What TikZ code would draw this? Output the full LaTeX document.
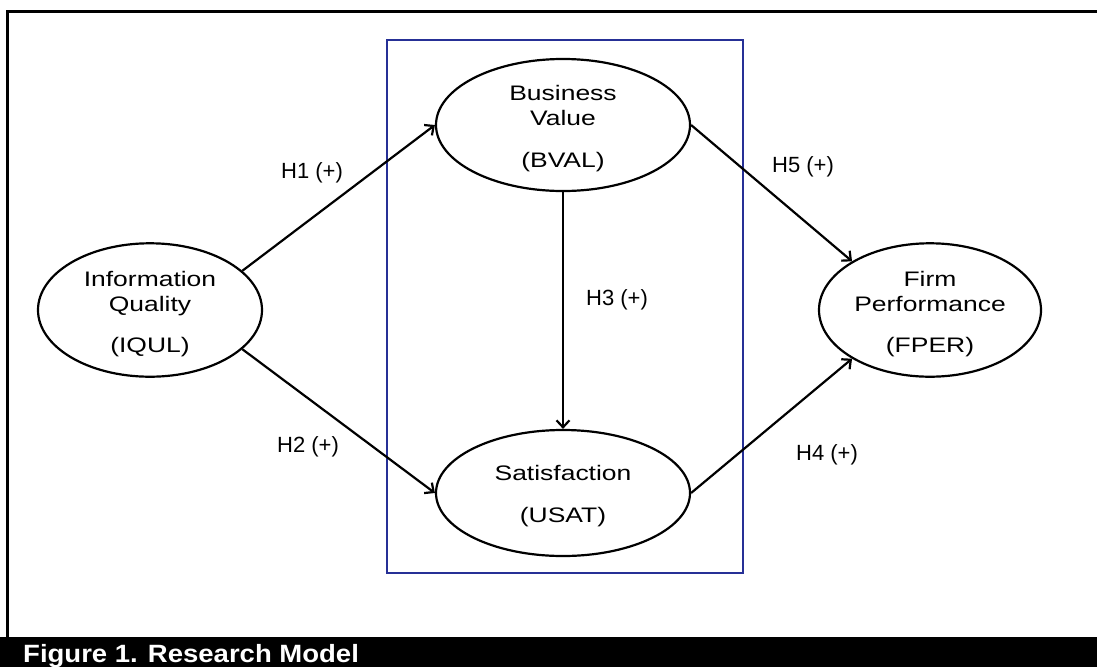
\documentclass[tikz,border=0pt]{standalone}
\usepackage{fontspec}
\setmainfont{Liberation Sans}
\newfontfamily\nodefont[FakeStretch=1.26]{Liberation Sans}
\newfontfamily\capfont[FakeStretch=1.1]{Liberation Sans}
\usepackage{xcolor}
\usetikzlibrary{arrows.meta, positioning, calc, shapes.geometric}
\definecolor{boxblue}{RGB}{38,48,150}

\begin{document}
\begin{tikzpicture}[x=1pt, y=-1pt,
    construct/.style={ellipse, draw, line width=2.2pt, inner sep=0pt,
        minimum height=126pt, align=center, font=\nodefont\fontsize{21}{25}\selectfont},
    path/.style={line width=2.2pt, -{Straight Barb[length=7pt, width=13pt]}},
    hyp/.style={font=\fontsize{22}{26}\selectfont}]
    \useasboundingbox (0,0) rectangle (1097,667);

    % frame and caption
    \draw[line width=3pt] (7.7,637) -- (7.7,11) -- (1097,11);
    \fill[black] (0,637) rectangle (1097,667);
    \node[anchor=base west, text=white, inner sep=0pt,
        font=\capfont\bfseries\fontsize{25}{30}\selectfont] (cap) at (23,662) {Figure 1. Research Model};

    % mediators
    \draw[boxblue, line width=2.4pt] (387,40) rectangle (743,573);

    \node[construct, minimum width=224pt] (iqul) at (150,310) {\rule{0pt}{24pt}Information\\Quality\\[16pt](IQUL)};
    \node[construct, minimum width=254pt] (bval) at (563,125) {\rule{0pt}{22pt}Business\\Value\\[17pt](BVAL)};
    \node[construct, minimum width=254pt] (usat) at (563,493) {\rule{0pt}{22pt}Satisfaction\\[17pt](USAT)};
    \node[construct, minimum width=222pt] (fper) at (930,310) {\rule{0pt}{24pt}Firm\\Performance\\[16pt](FPER)};

    \draw[path] (iqul.23) -- (bval.west);
    \draw[path] (iqul.-23) -- (usat.west);
    \draw[path] (bval.south) -- (usat.north);
    \draw[path] (bval.east) -- (fper.148);
    \draw[path] (usat.east) -- (fper.212);

    \node[hyp] (h1) at (312,173) {H1 (+)};
    \node[hyp] (h2) at (308,447) {H2 (+)};
    \node[hyp] (h3) at (617,300) {H3 (+)};
    \node[hyp] (h5) at (803,167) {H5 (+)};
    \node[hyp] (h4) at (827,455) {H4 (+)};
\end{tikzpicture}
\end{document}
